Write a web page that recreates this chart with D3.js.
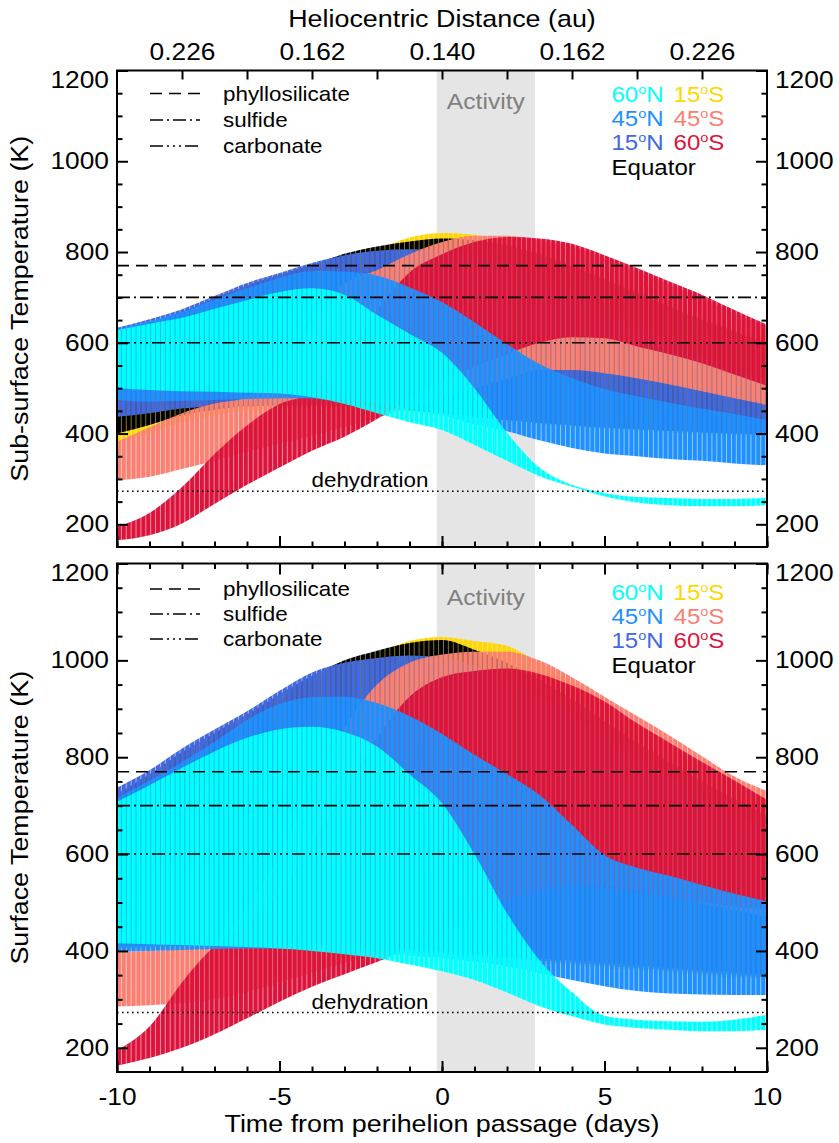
<!DOCTYPE html>
<html>
<head>
<meta charset="utf-8">
<script src="https://cdn.jsdelivr.net/npm/d3@7"></script>
<style>
  html, body { margin: 0; padding: 0; background: #fff; }
  svg text { font-family: "Liberation Sans", Arial, Helvetica, sans-serif; }
</style>
</head>
<body>
<svg id="chart" width="839" height="1143"></svg>
<script>
// ---------------- data ----------------
const days = [-10, -9, -8, -7, -6, -5, -4, -3, -2, -1, 0, 1, 2, 3, 4, 5, 6, 7, 8, 9, 10];

// Sub-surface temperature envelopes (K): daily maximum / minimum
const sub60N_max = [628, 642, 655, 675, 694, 712, 720, 706, 662, 620, 578, 500, 402, 325, 287, 269, 260, 258, 256, 256, 258];
const sub60N_min = [500, 496, 493, 492, 490, 488, 480, 465, 445, 425, 408, 375, 340, 306, 283, 262, 248, 242, 240, 240, 242];
const sub45N_max = [630, 648, 668, 695, 720, 743, 758, 757, 748, 722, 690, 645, 597, 553, 522, 498, 482, 468, 455, 443, 430];
const sub45N_min = [474, 470, 472, 474, 476, 478, 478, 475, 468, 455, 440, 420, 405, 385, 368, 356, 350, 344, 340, 334, 330];
const sub15N_max = [633, 652, 674, 703, 732, 754, 776, 793, 803, 806, 805, 795, 775, 745, 710, 672, 635, 600, 570, 545, 520];
const sub15N_min = [437, 445, 455, 460, 462, 463, 463, 462, 458, 452, 445, 437, 430, 423, 418, 413, 410, 406, 403, 400, 397];
const subEQ_max  = [625, 645, 668, 698, 726, 750, 772, 796, 812, 823, 830, 826, 815, 795, 770, 740, 710, 680, 650, 625, 600];
const subEQ_min  = [400, 419, 440, 452, 460, 462, 462, 460, 456, 450, 445, 438, 430, 424, 419, 414, 410, 406, 403, 400, 398];
const sub15S_max = [620, 640, 662, 690, 718, 742, 765, 788, 806, 832, 842, 838, 820, 800, 775, 745, 715, 685, 655, 630, 605];
const sub15S_min = [382, 400, 425, 440, 450, 455, 455, 453, 450, 445, 440, 433, 426, 420, 415, 410, 406, 402, 399, 396, 394];
const sub45S_max = [382, 414, 445, 466, 480, 540, 640, 730, 760, 795, 822, 836, 836, 826, 812, 788, 758, 728, 698, 665, 636];
const sub45S_min = [297, 305, 322, 340, 360, 378, 395, 415, 435, 455, 478, 500, 520, 540, 540, 533, 522, 508, 493, 478, 463];
const sub60S_max = [195, 225, 282, 355, 418, 465, 490, 560, 670, 755, 795, 822, 833, 830, 818, 793, 765, 735, 706, 672, 640];
const sub60S_min = [165, 176, 202, 245, 287, 325, 362, 393, 432, 475, 515, 548, 575, 600, 612, 610, 592, 575, 555, 530, 505];

// Surface temperature envelopes (K): daily maximum / minimum
const sur60N_max = [708, 742, 778, 812, 840, 858, 863, 852, 822, 765, 705, 600, 478, 381, 315, 266, 258, 255, 254, 258, 268];
const sur60N_min = [416, 414, 412, 410, 408, 405, 400, 393, 385, 372, 358, 340, 314, 286, 265, 248, 241, 237, 234, 234, 237];
const sur45N_max = [716, 752, 790, 832, 877, 910, 924, 925, 912, 885, 848, 805, 765, 722, 660, 598, 572, 555, 536, 518, 502];
const sur45N_min = [398, 400, 402, 404, 405, 405, 403, 400, 395, 390, 385, 378, 368, 354, 340, 327, 317, 312, 310, 309, 309];
const sur15N_max = [737, 773, 818, 857, 895, 937, 975, 995, 1005, 1010, 1005, 990, 965, 930, 890, 845, 800, 760, 720, 685, 650];
const sur15N_min = [405, 408, 410, 412, 413, 413, 412, 410, 405, 400, 395, 390, 385, 380, 375, 370, 365, 360, 355, 350, 345];
const surEQ_max  = [725, 765, 810, 850, 888, 930, 968, 1000, 1020, 1036, 1042, 1022, 995, 960, 920, 875, 830, 790, 750, 715, 680];
const surEQ_min  = [410, 412, 414, 416, 417, 417, 416, 414, 410, 405, 400, 395, 390, 385, 380, 375, 370, 365, 360, 355, 350];
const sur15S_max = [715, 755, 800, 840, 878, 920, 958, 990, 1015, 1040, 1048, 1040, 1030, 995, 955, 910, 865, 820, 780, 745, 710];
const sur15S_min = [400, 402, 404, 406, 407, 407, 406, 404, 400, 395, 390, 385, 380, 375, 370, 365, 360, 355, 350, 345, 340];
const sur45S_max = [398, 400, 404, 420, 490, 600, 730, 860, 950, 995, 1012, 1018, 1018, 1000, 965, 925, 885, 845, 802, 760, 730];
const sur45S_min = [285, 288, 292, 300, 315, 335, 355, 375, 395, 420, 450, 480, 505, 525, 535, 535, 525, 512, 498, 485, 470];
const sur60S_max = [195, 244, 335, 410, 455, 520, 620, 730, 840, 925, 965, 978, 983, 972, 948, 915, 870, 830, 790, 752, 712];
const sur60S_min = [163, 179, 200, 228, 261, 295, 326, 352, 377, 405, 440, 475, 505, 525, 535, 530, 520, 510, 500, 492, 485];

// Latitudes, in legend order and in drawing order (bottom layer first)
const legendRows = [["60N", "15S"], ["45N", "45S"], ["15N", "60S"], ["EQ"]];
const drawOrder = ["15S", "EQ", "15N", "45S", "60S", "45N", "60N"];
const latLabels = { "60N": ["60", "N"], "45N": ["45", "N"], "15N": ["15", "N"], "15S": ["15", "S"], "45S": ["45", "S"], "60S": ["60", "S"], "EQ": ["Equator"] };

// Axis ticks
const yMajorTicks = [200, 400, 600, 800, 1000, 1200];
const yMinorTicks = [250, 300, 350, 450, 500, 550, 650, 700, 750, 850, 900, 950, 1050, 1100, 1150];
const xMajorTicks = [-10, -5, 0, 5, 10];
const helioTickDays = [-8, -6, -4, -2, 0, 2, 4, 6, 8];
const helioTickLabels = ["0.226", "", "0.162", "", "0.140", "", "0.162", "", "0.226"];

// Mineral decomposition thresholds (K)
const thresholdNames = ["phyllosilicate", "sulfide", "carbonate"];
const thresholdTemps = [770, 700, 600];
const dehydrationTemp = 273;

// Observed activity window (days from perihelion)
const activityWindow = [-0.16, 2.86];
// Rotation period of the body (hours) - sets the diurnal bar spacing
const rotationHours = 3.604;

// ---------------- layout & style ----------------
const W = 839, H = 1143;
const X0 = 117, X1 = 767;
const SX = 1.12; // horizontal text stretch
const latColor = { "60N": "#00ffff", "45N": "#1e90ff", "15N": "#4169e1", "EQ": "#000000", "15S": "#ffd700", "45S": "#fa8072", "60S": "#dc143c" };
const lineDash = ["12,7", "13,4,2,4", "13,4,2,4,2,4,2,4"];

const svg = d3.select("#chart");
const defs = svg.append("defs");
const x = d3.scaleLinear().domain([-10, 10]).range([X0, X1]);

// vertical bar texture for the diurnal oscillations
const barPeriod = x(-10 + rotationHours / 24) - x(-10);
const pat = defs.append("pattern").attr("id", "barPat").attr("patternUnits", "userSpaceOnUse")
  .attr("x", X0).attr("y", 0).attr("width", barPeriod).attr("height", H);
pat.append("rect").attr("width", barPeriod).attr("height", H).attr("fill", "#fff");
pat.append("rect").attr("x", barPeriod - 1).attr("width", 1).attr("height", H).attr("fill", "#7a7a7a");
defs.append("mask").attr("id", "bars").attr("maskUnits", "userSpaceOnUse")
  .attr("x", 0).attr("y", 0).attr("width", W).attr("height", H)
  .append("rect").attr("width", W).attr("height", H).attr("fill", "url(#barPat)");

function stretch(sel) {
  sel.attr("transform", function () {
    const ax = +(this.getAttribute("x") || 0);
    return `translate(${ax},0) scale(${SX},1) translate(${-ax},0)`;
  });
}

function label(parent, px, py, txt, size, anchor, fill) {
  const t = parent.append("text").attr("x", px).attr("y", py)
    .attr("font-size", size).attr("text-anchor", anchor || "start").attr("fill", fill || "#000").text(txt);
  stretch(t);
  return t;
}

const panels = [
  {
    key: "sub", top: 70.5, bottom: 547, title: "Sub-surface Temperature (K)", topAxis: "helio", bottomLabels: false,
    series: {
      "60N": [sub60N_min, sub60N_max], "45N": [sub45N_min, sub45N_max], "15N": [sub15N_min, sub15N_max],
      "EQ": [subEQ_min, subEQ_max], "15S": [sub15S_min, sub15S_max], "45S": [sub45S_min, sub45S_max], "60S": [sub60S_min, sub60S_max]
    },
    legendBase: [101, 127.5, 153.5], colorBase: [102, 126.5, 150.5, 175], activityBase: 109, dehydBase: 487.5
  },
  {
    key: "sur", top: 563.5, bottom: 1072, title: "Surface Temperature (K)", topAxis: "days", bottomLabels: true,
    series: {
      "60N": [sur60N_min, sur60N_max], "45N": [sur45N_min, sur45N_max], "15N": [sur15N_min, sur15N_max],
      "EQ": [surEQ_min, surEQ_max], "15S": [sur15S_min, sur15S_max], "45S": [sur45S_min, sur45S_max], "60S": [sur60S_min, sur60S_max]
    },
    legendBase: [596.5, 621.5, 646.5], colorBase: [600.5, 624, 648.5, 673], activityBase: 605.5, dehydBase: 1009.5
  }
];

function styleAxis(g) {
  g.attr("font-size", null).attr("font-family", null);
  g.select(".domain").remove();
  g.selectAll(".tick line").attr("stroke", "#000").attr("stroke-width", 2);
  g.selectAll(".tick text").attr("font-size", 23.5).attr("fill", "#000");
}

panels.forEach(p => {
  const g = svg.append("g");
  const y = d3.scaleLinear().domain([150, 1200]).range([p.bottom, p.top]);
  const clipId = "clip-" + p.key;
  defs.append("clipPath").attr("id", clipId).append("rect")
    .attr("x", X0).attr("y", p.top).attr("width", X1 - X0).attr("height", p.bottom - p.top);

  // activity window
  g.append("rect").attr("x", x(activityWindow[0])).attr("y", p.top)
    .attr("width", x(activityWindow[1]) - x(activityWindow[0])).attr("height", p.bottom - p.top)
    .attr("fill", "#e5e5e5");
  label(g, (x(activityWindow[0]) + x(activityWindow[1])) / 2, p.activityBase, "Activity", 22, "middle", "#808080");

  // temperature bands per latitude
  const bands = g.append("g").attr("clip-path", `url(#${clipId})`);
  const area = d3.area().x(r => x(r.d)).y0(r => y(r.lo)).y1(r => y(r.hi)).curve(d3.curveMonotoneX);
  drawOrder.forEach(k => {
    const [lo, hi] = p.series[k];
    const rows = days.map((d, i) => ({ d, lo: lo[i], hi: hi[i] }));
    bands.append("path").datum(rows).attr("d", area)
      .attr("fill", latColor[k]).attr("mask", "url(#bars)");
  });

  // threshold lines
  thresholdTemps.forEach((T, i) => {
    g.append("line").attr("x1", X0).attr("x2", X1).attr("y1", y(T)).attr("y2", y(T))
      .attr("stroke", "#000").attr("stroke-width", 1.6).attr("stroke-dasharray", lineDash[i]);
  });
  g.append("line").attr("x1", X0).attr("x2", X1).attr("y1", y(dehydrationTemp)).attr("y2", y(dehydrationTemp))
    .attr("stroke", "#000").attr("stroke-width", 1.6).attr("stroke-dasharray", "1.6,3.4");
  label(g, 311.5, p.dehydBase, "dehydration", 20, "start", "#000");

  // line-style legend
  thresholdNames.forEach((name, i) => {
    const by = p.legendBase[i];
    g.append("line").attr("x1", 150).attr("x2", 200).attr("y1", by - 7.5).attr("y2", by - 7.5)
      .attr("stroke", "#000").attr("stroke-width", 1.6).attr("stroke-dasharray", lineDash[i]);
    label(g, 223, by, name, 20, "start", "#000");
  });

  // colour legend
  const colX = [611.5, 673.5];
  legendRows.forEach((row, ri) => {
    row.forEach((k, ci) => {
      const t = g.append("text").attr("x", colX[ci]).attr("y", p.colorBase[ri])
        .attr("font-size", 21.5).attr("fill", latColor[k]);
      const parts = latLabels[k];
      if (parts.length === 1) {
        t.text(parts[0]);
      } else {
        t.append("tspan").text(parts[0]);
        t.append("tspan").attr("font-size", 13).attr("dy", -8).text("o");
        t.append("tspan").attr("dy", 8).text(parts[1]);
      }
      stretch(t);
    });
  });

  // y axes (left and right)
  const fmt = d => String(d);
  const leftMaj = g.append("g").attr("transform", `translate(${X0},0)`)
    .call(d3.axisLeft(y).tickValues(yMajorTicks).tickSize(-11).tickPadding(8).tickFormat(fmt));
  const leftMin = g.append("g").attr("transform", `translate(${X0},0)`)
    .call(d3.axisLeft(y).tickValues(yMinorTicks).tickSize(-5.5).tickFormat(""));
  const rightMaj = g.append("g").attr("transform", `translate(${X1},0)`)
    .call(d3.axisRight(y).tickValues(yMajorTicks).tickSize(-11).tickPadding(8).tickFormat(fmt));
  const rightMin = g.append("g").attr("transform", `translate(${X1},0)`)
    .call(d3.axisRight(y).tickValues(yMinorTicks).tickSize(-5.5).tickFormat(""));
  [leftMaj, leftMin, rightMaj, rightMin].forEach(styleAxis);
  [leftMaj, rightMaj].forEach(a => {
    a.selectAll(".tick").filter(d => d === 1200).select("text").attr("dy", "0.72em");
    stretch(a.selectAll(".tick text"));
  });

  // bottom axis (days)
  const botMaj = g.append("g").attr("transform", `translate(0,${p.bottom})`)
    .call(d3.axisBottom(x).tickValues(xMajorTicks).tickSize(-11).tickPadding(16)
      .tickFormat(p.bottomLabels ? fmt : ""));
  const botMin = g.append("g").attr("transform", `translate(0,${p.bottom})`)
    .call(d3.axisBottom(x).tickValues(days).tickSize(-5.5).tickFormat(""));
  [botMaj, botMin].forEach(styleAxis);
  stretch(botMaj.selectAll(".tick text"));

  // top axis
  if (p.topAxis === "helio") {
    const topAx = g.append("g").attr("transform", `translate(0,${p.top})`)
      .call(d3.axisTop(x).tickValues(helioTickDays).tickSize(-9).tickPadding(10.5)
        .tickFormat((d, i) => helioTickLabels[i]));
    styleAxis(topAx);
    stretch(topAx.selectAll(".tick text"));
  } else {
    const topMaj = g.append("g").attr("transform", `translate(0,${p.top})`)
      .call(d3.axisTop(x).tickValues(xMajorTicks).tickSize(-11).tickFormat(""));
    const topMin = g.append("g").attr("transform", `translate(0,${p.top})`)
      .call(d3.axisTop(x).tickValues(days).tickSize(-5.5).tickFormat(""));
    [topMaj, topMin].forEach(styleAxis);
  }

  // frame
  g.append("rect").attr("x", X0).attr("y", p.top).attr("width", X1 - X0).attr("height", p.bottom - p.top)
    .attr("fill", "none").attr("stroke", "#000").attr("stroke-width", 2);

  // y title
  g.append("text").attr("transform", `translate(28,${(p.top + p.bottom) / 2}) rotate(-90) scale(${SX},1)`)
    .attr("text-anchor", "middle").attr("font-size", 24).attr("fill", "#000").text(p.title);
});

// overall titles
label(svg, (X0 + X1) / 2, 27, "Heliocentric Distance (au)", 24, "middle", "#000");
label(svg, (X0 + X1) / 2, 1132, "Time from perihelion passage (days)", 24, "middle", "#000");
</script>
</body>
</html>
